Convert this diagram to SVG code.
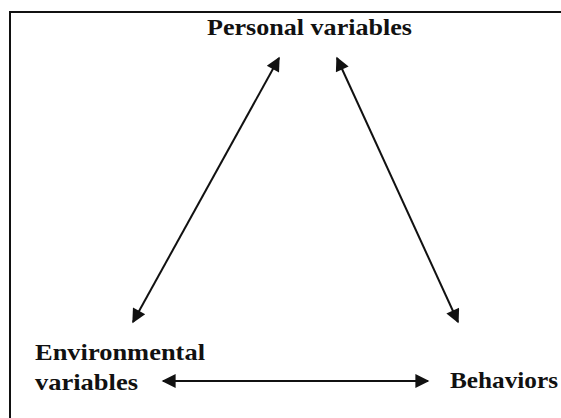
<svg xmlns="http://www.w3.org/2000/svg" width="561" height="418" viewBox="0 0 561 418">
<style>
.t{font-family:"Liberation Serif","Times New Roman",serif;font-weight:bold;font-size:23px;fill:#111}
.c{stroke:#111;stroke-width:2;fill:none}
</style>
<defs>
<marker id="ah2" viewBox="0 0 10 10" refX="9" refY="5" markerWidth="18" markerHeight="14" markerUnits="userSpaceOnUse" orient="auto-start-reverse">
<path d="M0,0 L10,5 L0,10 Z" fill="#111"/>
</marker>
</defs>
<rect width="561" height="418" fill="#fff"/>
<path d="M10,418 V12 H561" stroke="#111" stroke-width="2" fill="none"/>
<g id="personal"><text class="t" x="207" y="35" textLength="205" lengthAdjust="spacingAndGlyphs">Personal variables</text></g>
<g id="environmental"><text class="t" x="35" y="360" textLength="170" lengthAdjust="spacingAndGlyphs">Environmental</text><text class="t" x="35" y="390" textLength="103" lengthAdjust="spacingAndGlyphs">variables</text></g>
<g id="behaviors"><text class="t" x="450" y="388" textLength="108" lengthAdjust="spacingAndGlyphs">Behaviors</text></g>
<g id="connectors">
<line class="c" x1="279" y1="58" x2="133" y2="322" marker-start="url(#ah2)" marker-end="url(#ah2)"/>
<line class="c" x1="337" y1="58" x2="458" y2="322" marker-start="url(#ah2)" marker-end="url(#ah2)"/>
<line class="c" x1="163" y1="381" x2="428" y2="381" marker-start="url(#ah2)" marker-end="url(#ah2)"/>
</g>
</svg>
